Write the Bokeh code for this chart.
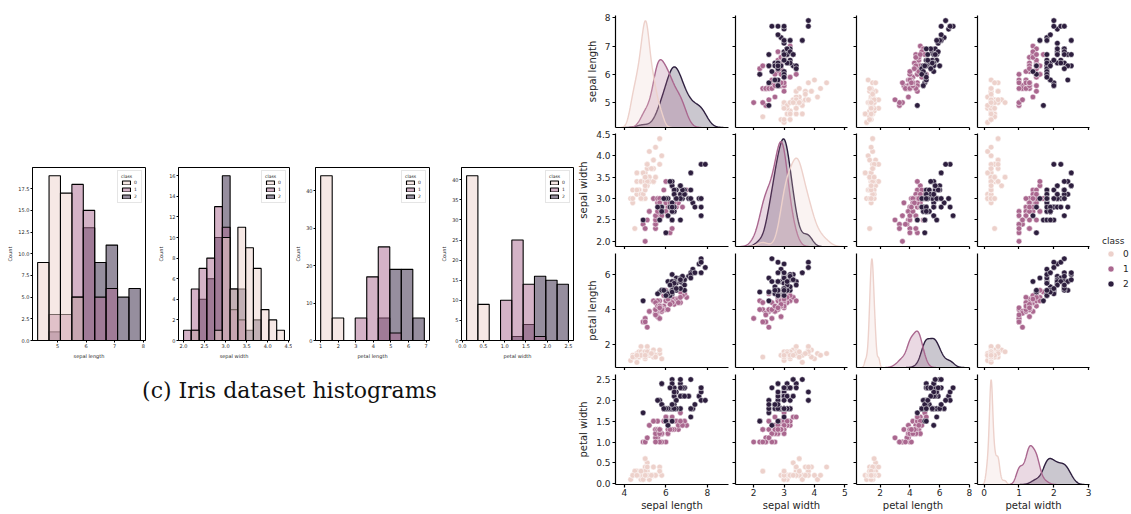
import numpy as np
from bokeh.plotting import figure
from bokeh.layouts import row, column
from bokeh.models import (Range1d, FixedTicker, PrintfTickFormatter, Legend,
                          LegendItem, Label, ColumnDataSource)
from bokeh.embed import file_html
from bokeh.resources import INLINE

# ---------------- data (Iris) ----------------
sepal_length = [
    5.1, 4.9, 4.7, 4.6, 5.0, 5.4, 4.6, 5.0, 4.4, 4.9, 5.4, 4.8, 4.8, 4.3, 5.8, 5.7, 5.4, 5.1, 5.7, 5.1,
    5.4, 5.1, 4.6, 5.1, 4.8, 5.0, 5.0, 5.2, 5.2, 4.7, 4.8, 5.4, 5.2, 5.5, 4.9, 5.0, 5.5, 4.9, 4.4, 5.1,
    5.0, 4.5, 4.4, 5.0, 5.1, 4.8, 5.1, 4.6, 5.3, 5.0,
    7.0, 6.4, 6.9, 5.5, 6.5, 5.7, 6.3, 4.9, 6.6, 5.2, 5.0, 5.9, 6.0, 6.1, 5.6, 6.7, 5.6, 5.8, 6.2, 5.6,
    5.9, 6.1, 6.3, 6.1, 6.4, 6.6, 6.8, 6.7, 6.0, 5.7, 5.5, 5.5, 5.8, 6.0, 5.4, 6.0, 6.7, 6.3, 5.6, 5.5,
    5.5, 6.1, 5.8, 5.0, 5.6, 5.7, 5.7, 6.2, 5.1, 5.7,
    6.3, 5.8, 7.1, 6.3, 6.5, 7.6, 4.9, 7.3, 6.7, 7.2, 6.5, 6.4, 6.8, 5.7, 5.8, 6.4, 6.5, 7.7, 7.7, 6.0,
    6.9, 5.6, 7.7, 6.3, 6.7, 7.2, 6.2, 6.1, 6.4, 7.2, 7.4, 7.9, 6.4, 6.3, 6.1, 7.7, 6.3, 6.4, 6.0, 6.9,
    6.7, 6.9, 5.8, 6.8, 6.7, 6.7, 6.3, 6.5, 6.2, 5.9]
sepal_width = [
    3.5, 3.0, 3.2, 3.1, 3.6, 3.9, 3.4, 3.4, 2.9, 3.1, 3.7, 3.4, 3.0, 3.0, 4.0, 4.4, 3.9, 3.5, 3.8, 3.8,
    3.4, 3.7, 3.6, 3.3, 3.4, 3.0, 3.4, 3.5, 3.4, 3.2, 3.1, 3.4, 4.1, 4.2, 3.1, 3.2, 3.5, 3.6, 3.0, 3.4,
    3.5, 2.3, 3.2, 3.5, 3.8, 3.0, 3.8, 3.2, 3.7, 3.3,
    3.2, 3.2, 3.1, 2.3, 2.8, 2.8, 3.3, 2.4, 2.9, 2.7, 2.0, 3.0, 2.2, 2.9, 2.9, 3.1, 3.0, 2.7, 2.2, 2.5,
    3.2, 2.8, 2.5, 2.8, 2.9, 3.0, 2.8, 3.0, 2.9, 2.6, 2.4, 2.4, 2.7, 2.7, 3.0, 3.4, 3.1, 2.3, 3.0, 2.5,
    2.6, 3.0, 2.6, 2.3, 2.7, 3.0, 2.9, 2.9, 2.5, 2.8,
    3.3, 2.7, 3.0, 2.9, 3.0, 3.0, 2.5, 2.9, 2.5, 3.6, 3.2, 2.7, 3.0, 2.5, 2.8, 3.2, 3.0, 3.8, 2.6, 2.2,
    3.2, 2.8, 2.8, 2.7, 3.3, 3.2, 2.8, 3.0, 2.8, 3.0, 2.8, 3.8, 2.8, 2.8, 2.6, 3.0, 3.4, 3.1, 3.0, 3.1,
    3.1, 3.1, 2.7, 3.2, 3.3, 3.0, 2.5, 3.0, 3.4, 3.0]
petal_length = [
    1.4, 1.4, 1.3, 1.5, 1.4, 1.7, 1.4, 1.5, 1.4, 1.5, 1.5, 1.6, 1.4, 1.1, 1.2, 1.5, 1.3, 1.4, 1.7, 1.5,
    1.7, 1.5, 1.0, 1.7, 1.9, 1.6, 1.6, 1.5, 1.4, 1.6, 1.6, 1.5, 1.5, 1.4, 1.5, 1.2, 1.3, 1.4, 1.3, 1.5,
    1.3, 1.3, 1.3, 1.6, 1.9, 1.4, 1.6, 1.4, 1.5, 1.4,
    4.7, 4.5, 4.9, 4.0, 4.6, 4.5, 4.7, 3.3, 4.6, 3.9, 3.5, 4.2, 4.0, 4.7, 3.6, 4.4, 4.5, 4.1, 4.5, 3.9,
    4.8, 4.0, 4.9, 4.7, 4.3, 4.4, 4.8, 5.0, 4.5, 3.5, 3.8, 3.7, 3.9, 5.1, 4.5, 4.5, 4.7, 4.4, 4.1, 4.0,
    4.4, 4.6, 4.0, 3.3, 4.2, 4.2, 4.2, 4.3, 3.0, 4.1,
    6.0, 5.1, 5.9, 5.6, 5.8, 6.6, 4.5, 6.3, 5.8, 6.1, 5.1, 5.3, 5.5, 5.0, 5.1, 5.3, 5.5, 6.7, 6.9, 5.0,
    5.7, 4.9, 6.7, 4.9, 5.7, 6.0, 4.8, 4.9, 5.6, 5.8, 6.1, 6.4, 5.6, 5.1, 5.6, 6.1, 5.6, 5.5, 4.8, 5.4,
    5.6, 5.1, 5.1, 5.9, 5.7, 5.2, 5.0, 5.2, 5.4, 5.1]
petal_width = [
    0.2, 0.2, 0.2, 0.2, 0.2, 0.4, 0.3, 0.2, 0.2, 0.1, 0.2, 0.2, 0.1, 0.1, 0.2, 0.4, 0.4, 0.3, 0.3, 0.3,
    0.2, 0.4, 0.2, 0.5, 0.2, 0.2, 0.4, 0.2, 0.2, 0.2, 0.2, 0.4, 0.1, 0.2, 0.2, 0.2, 0.2, 0.1, 0.2, 0.2,
    0.3, 0.3, 0.2, 0.6, 0.4, 0.3, 0.2, 0.2, 0.2, 0.2,
    1.4, 1.5, 1.5, 1.3, 1.5, 1.3, 1.6, 1.0, 1.3, 1.4, 1.0, 1.5, 1.0, 1.4, 1.3, 1.4, 1.5, 1.0, 1.5, 1.1,
    1.8, 1.3, 1.5, 1.2, 1.3, 1.4, 1.4, 1.7, 1.5, 1.0, 1.1, 1.0, 1.2, 1.6, 1.5, 1.6, 1.5, 1.3, 1.3, 1.3,
    1.2, 1.4, 1.2, 1.0, 1.3, 1.2, 1.3, 1.3, 1.1, 1.3,
    2.5, 1.9, 2.1, 1.8, 2.2, 2.1, 1.7, 1.8, 1.8, 2.5, 2.0, 1.9, 2.1, 2.0, 2.4, 2.3, 1.8, 2.2, 2.3, 1.5,
    2.3, 2.0, 2.0, 1.8, 2.1, 1.8, 1.8, 1.8, 2.1, 1.6, 1.9, 2.0, 2.2, 1.5, 1.4, 2.3, 2.4, 1.8, 1.8, 2.1,
    2.4, 2.3, 1.9, 2.3, 2.5, 2.3, 1.9, 2.0, 2.3, 1.8]
iris_class = [0] * 50 + [1] * 50 + [2] * 50

features = ["sepal length", "sepal width", "petal length", "petal width"]
class_labels = ["0", "1", "2"]
class_colors = ["#edd1cb", "#aa678f", "#2d1e3e"]

hist_bins = [9, 13, 9, 9]
hist_xticks = [[5, 6, 7, 8], [2.0, 2.5, 3.0, 3.5, 4.0, 4.5], [1, 2, 3, 4, 5, 6, 7],
               [0.0, 0.5, 1.0, 1.5, 2.0, 2.5]]
hist_yticks = [[0, 2.5, 5, 7.5, 10, 12.5, 15, 17.5], [0, 2, 4, 6, 8, 10, 12, 14, 16],
               [0, 10, 20, 30, 40], [0, 5, 10, 15, 20, 25, 30, 35, 40]]
hist_xfmt = ["%d", "%.1f", "%d", "%.1f"]
hist_yfmt = ["%.1f", "%d", "%d", "%d"]

pair_xticks = [[4, 6, 8], [2, 3, 4, 5], [2, 4, 6, 8], [0, 1, 2, 3]]
pair_yticks = [[5, 6, 7, 8], [2.0, 2.5, 3.0, 3.5, 4.0, 4.5], [2, 4, 6],
               [0.0, 0.5, 1.0, 1.5, 2.0, 2.5]]
pair_xfmt = ["%d", "%d", "%d", "%d"]
pair_yfmt = ["%d", "%.1f", "%d", "%.1f"]

caption = "(c) Iris dataset histograms"

# ---------------- derived ----------------
vals = [np.array(sepal_length), np.array(sepal_width), np.array(petal_length), np.array(petal_width)]
cls = np.array(iris_class)
N = len(cls)
TXT = "#262626"
FONT = "DejaVu Sans"


def kde_curve(v):
    n = len(v)
    bw = v.std(ddof=1) * n ** (-0.2)
    grid = np.linspace(v.min() - 3 * bw, v.max() + 3 * bw, 200)
    dens = np.exp(-0.5 * ((grid[:, None] - v[None, :]) / bw) ** 2).sum(1) / (n * bw * np.sqrt(2 * np.pi))
    return grid, dens * n / N


kdes = [[kde_curve(vals[k][cls == c]) for c in range(3)] for k in range(4)]


def style_axis(ax, fs, lfs, tick_out, lab_standoff, axlab_standoff, lw):
    ax.major_tick_out = tick_out
    ax.major_tick_in = 0
    ax.minor_tick_out = 0
    ax.minor_tick_in = 0
    ax.axis_line_color = "black"
    ax.axis_line_width = lw
    ax.major_tick_line_color = "black"
    ax.major_tick_line_width = lw
    ax.major_label_text_font_size = fs
    ax.major_label_text_font = FONT
    ax.major_label_text_color = TXT
    ax.axis_label_text_font_size = lfs
    ax.axis_label_text_font = FONT
    ax.axis_label_text_font_style = "normal"
    ax.axis_label_text_color = TXT
    ax.major_label_standoff = lab_standoff
    ax.axis_label_standoff = axlab_standoff


def hide_labels(ax):
    ax.major_label_text_font_size = "0px"
    ax.major_label_text_color = None
    ax.major_label_text_alpha = 0
    ax.major_label_standoff = 0


# ---------------- histograms ----------------
hist_layout = [  # (width, left border, right border)
    (155, 32, 10), (137, 19, 3), (139, 23, 2), (144, 30, 2)]
hist_figs = []
for k in range(4):
    v = vals[k]
    edges = np.linspace(v.min(), v.max(), hist_bins[k] + 1)
    counts = [np.histogram(v[cls == c], bins=edges)[0] for c in range(3)]
    span = edges[-1] - edges[0]
    ymax = max(int(c.max()) for c in counts)
    w, lb, rb = hist_layout[k]
    p = figure(width=w, height=362, output_backend="svg", toolbar_location=None,
               x_range=Range1d(edges[0] - 0.05 * span, edges[-1] + 0.05 * span),
               y_range=Range1d(0, ymax * 1.05),
               min_border_left=lb, min_border_right=rb, min_border_top=167, min_border_bottom=22)
    rends = {}
    for c in [2, 1, 0]:
        rends[c] = p.quad(left=edges[:-1], right=edges[1:], bottom=0, top=counts[c],
                          fill_color=class_colors[c], fill_alpha=0.5,
                          line_color="black", line_width=1.1)
    p.grid.visible = False
    p.outline_line_color = "black"
    p.outline_line_width = 1
    p.outline_line_alpha = 1
    p.xaxis.ticker = FixedTicker(ticks=hist_xticks[k])
    p.yaxis.ticker = FixedTicker(ticks=hist_yticks[k])
    p.xaxis.formatter = PrintfTickFormatter(format=hist_xfmt[k])
    p.yaxis.formatter = PrintfTickFormatter(format=hist_yfmt[k])
    p.xaxis.axis_label = features[k]
    p.yaxis.axis_label = "Count"
    for ax in (p.xaxis[0], p.yaxis[0]):
        style_axis(ax, "5px", "5px", 2, 1, 2, 1)
    leg = Legend(items=[LegendItem(label=class_labels[c], renderers=[rends[c]]) for c in range(3)],
                 title="class", location="top_right",
                 title_text_font_size="4.5px", label_text_font_size="4.5px",
                 title_text_font=FONT, label_text_font=FONT,
                 title_text_color=TXT, label_text_color=TXT, title_text_font_style="normal",
                 glyph_width=10, glyph_height=5, label_height=5, label_width=4,
                 spacing=2, padding=3, margin=3, label_standoff=3, title_standoff=1,
                 border_line_color="#cccccc", border_line_width=0.6,
                 background_fill_alpha=0.8)
    p.add_layout(leg)
    hist_figs.append(p)

cap = figure(width=575, height=151, output_backend="svg", toolbar_location=None,
             x_axis_type=None, y_axis_type=None, min_border=0,
             x_range=Range1d(0, 1), y_range=Range1d(0, 1))
cap.outline_line_color = None
cap.add_layout(Label(x=289, y=123, x_units="screen", y_units="screen", text=caption,
                     text_align="center", text_baseline="middle",
                     text_font="DejaVu Serif", text_font_size="22px", text_color="#111111"))

# ---------------- pair plot ----------------
src = ColumnDataSource(dict(f0=vals[0], f1=vals[1], f2=vals[2], f3=vals[3],
                            color=[class_colors[c] for c in cls]))

xr = []
for k in range(4):
    lo = min(min(g.min() for g, d in kdes[k]), vals[k].min())
    hi = max(max(g.max() for g, d in kdes[k]), vals[k].max())
    m = 0.05 * (hi - lo)
    xr.append(Range1d(lo - m, hi + m))
yr = []
for k in range(4):
    lo, hi = vals[k].min(), vals[k].max()
    m = 0.05 * (hi - lo)
    yr.append(Range1d(lo - m, hi + m))

col_layout = [(156, 40), (119, 4), (122, 6), (120, 5)]  # width, left border
row_layout = [(130, 15, 3), (119, 3, 3), (121, 4, 3), (143, 4, 28)]  # height, top, bottom

pair_rows = []
for i in range(4):
    figs = []
    for j in range(4):
        w, lb = col_layout[j]
        h, tb, bb = row_layout[i]
        p = figure(width=w, height=h, output_backend="svg", toolbar_location=None,
                   x_range=xr[j], y_range=yr[i],
                   min_border_left=lb, min_border_right=3, min_border_top=tb, min_border_bottom=bb)
        if i == j:
            g_max = max(d.max() for g, d in kdes[i])
            p.extra_y_ranges = {"kde": Range1d(0, 1.05 * g_max)}
            for c in [2, 1, 0]:
                g, d = kdes[i][c]
                p.varea(x=g, y1=0, y2=d, y_range_name="kde",
                        fill_color=class_colors[c], fill_alpha=0.25)
                p.line(x=g, y=d, y_range_name="kde", line_color=class_colors[c], line_width=1.4)
        else:
            p.scatter(x=f"f{j}", y=f"f{i}", source=src, size=5.6, fill_color="color",
                      line_color="white", line_width=0.5)
        p.grid.visible = False
        p.outline_line_color = None
        p.xaxis.ticker = FixedTicker(ticks=pair_xticks[j])
        p.yaxis.ticker = FixedTicker(ticks=pair_yticks[i])
        p.xaxis.formatter = PrintfTickFormatter(format=pair_xfmt[j])
        p.yaxis.formatter = PrintfTickFormatter(format=pair_yfmt[i])
        style_axis(p.xaxis[0], "9px", "10px", 3, 1, 1, 1.2)
        style_axis(p.yaxis[0], "9px", "10px", 3, 2, 4, 1.2)
        if i == 3:
            p.xaxis.axis_label = features[j]
        else:
            hide_labels(p.xaxis[0])
        if j == 0:
            p.yaxis.axis_label = features[i]
        else:
            hide_labels(p.yaxis[0])
        figs.append(p)
    pair_rows.append(row(*figs))

# legend-only panel: one hidden (NaN) sample per class so that the legend draws its markers
leg_fig = figure(width=39, height=513, output_backend="svg", toolbar_location=None,
                 x_axis_type=None, y_axis_type=None, min_border=0,
                 x_range=Range1d(0, 1), y_range=Range1d(0, 1))
leg_fig.outline_line_color = None
leg_rends = [leg_fig.scatter(x=[float("nan")], y=[float("nan")], size=6, fill_color=class_colors[c],
                             line_color="white", line_width=0.5) for c in range(3)]
pl = Legend(items=[LegendItem(label=class_labels[c], renderers=[leg_rends[c]]) for c in range(3)],
            title="class", location=(10, 222),
            title_text_font_size="9px", label_text_font_size="9px",
            title_text_font=FONT, label_text_font=FONT, title_text_font_style="normal",
            title_text_color=TXT, label_text_color=TXT,
            glyph_width=17, glyph_height=15, label_height=15, label_width=5,
            spacing=0, padding=0, margin=0, label_standoff=4, title_standoff=0,
            border_line_color=None, background_fill_alpha=0)
leg_fig.add_layout(pl)

layout = row(column(row(*hist_figs), cap), column(*pair_rows), leg_fig)

open("out.html", "w").write(file_html(layout, INLINE))
